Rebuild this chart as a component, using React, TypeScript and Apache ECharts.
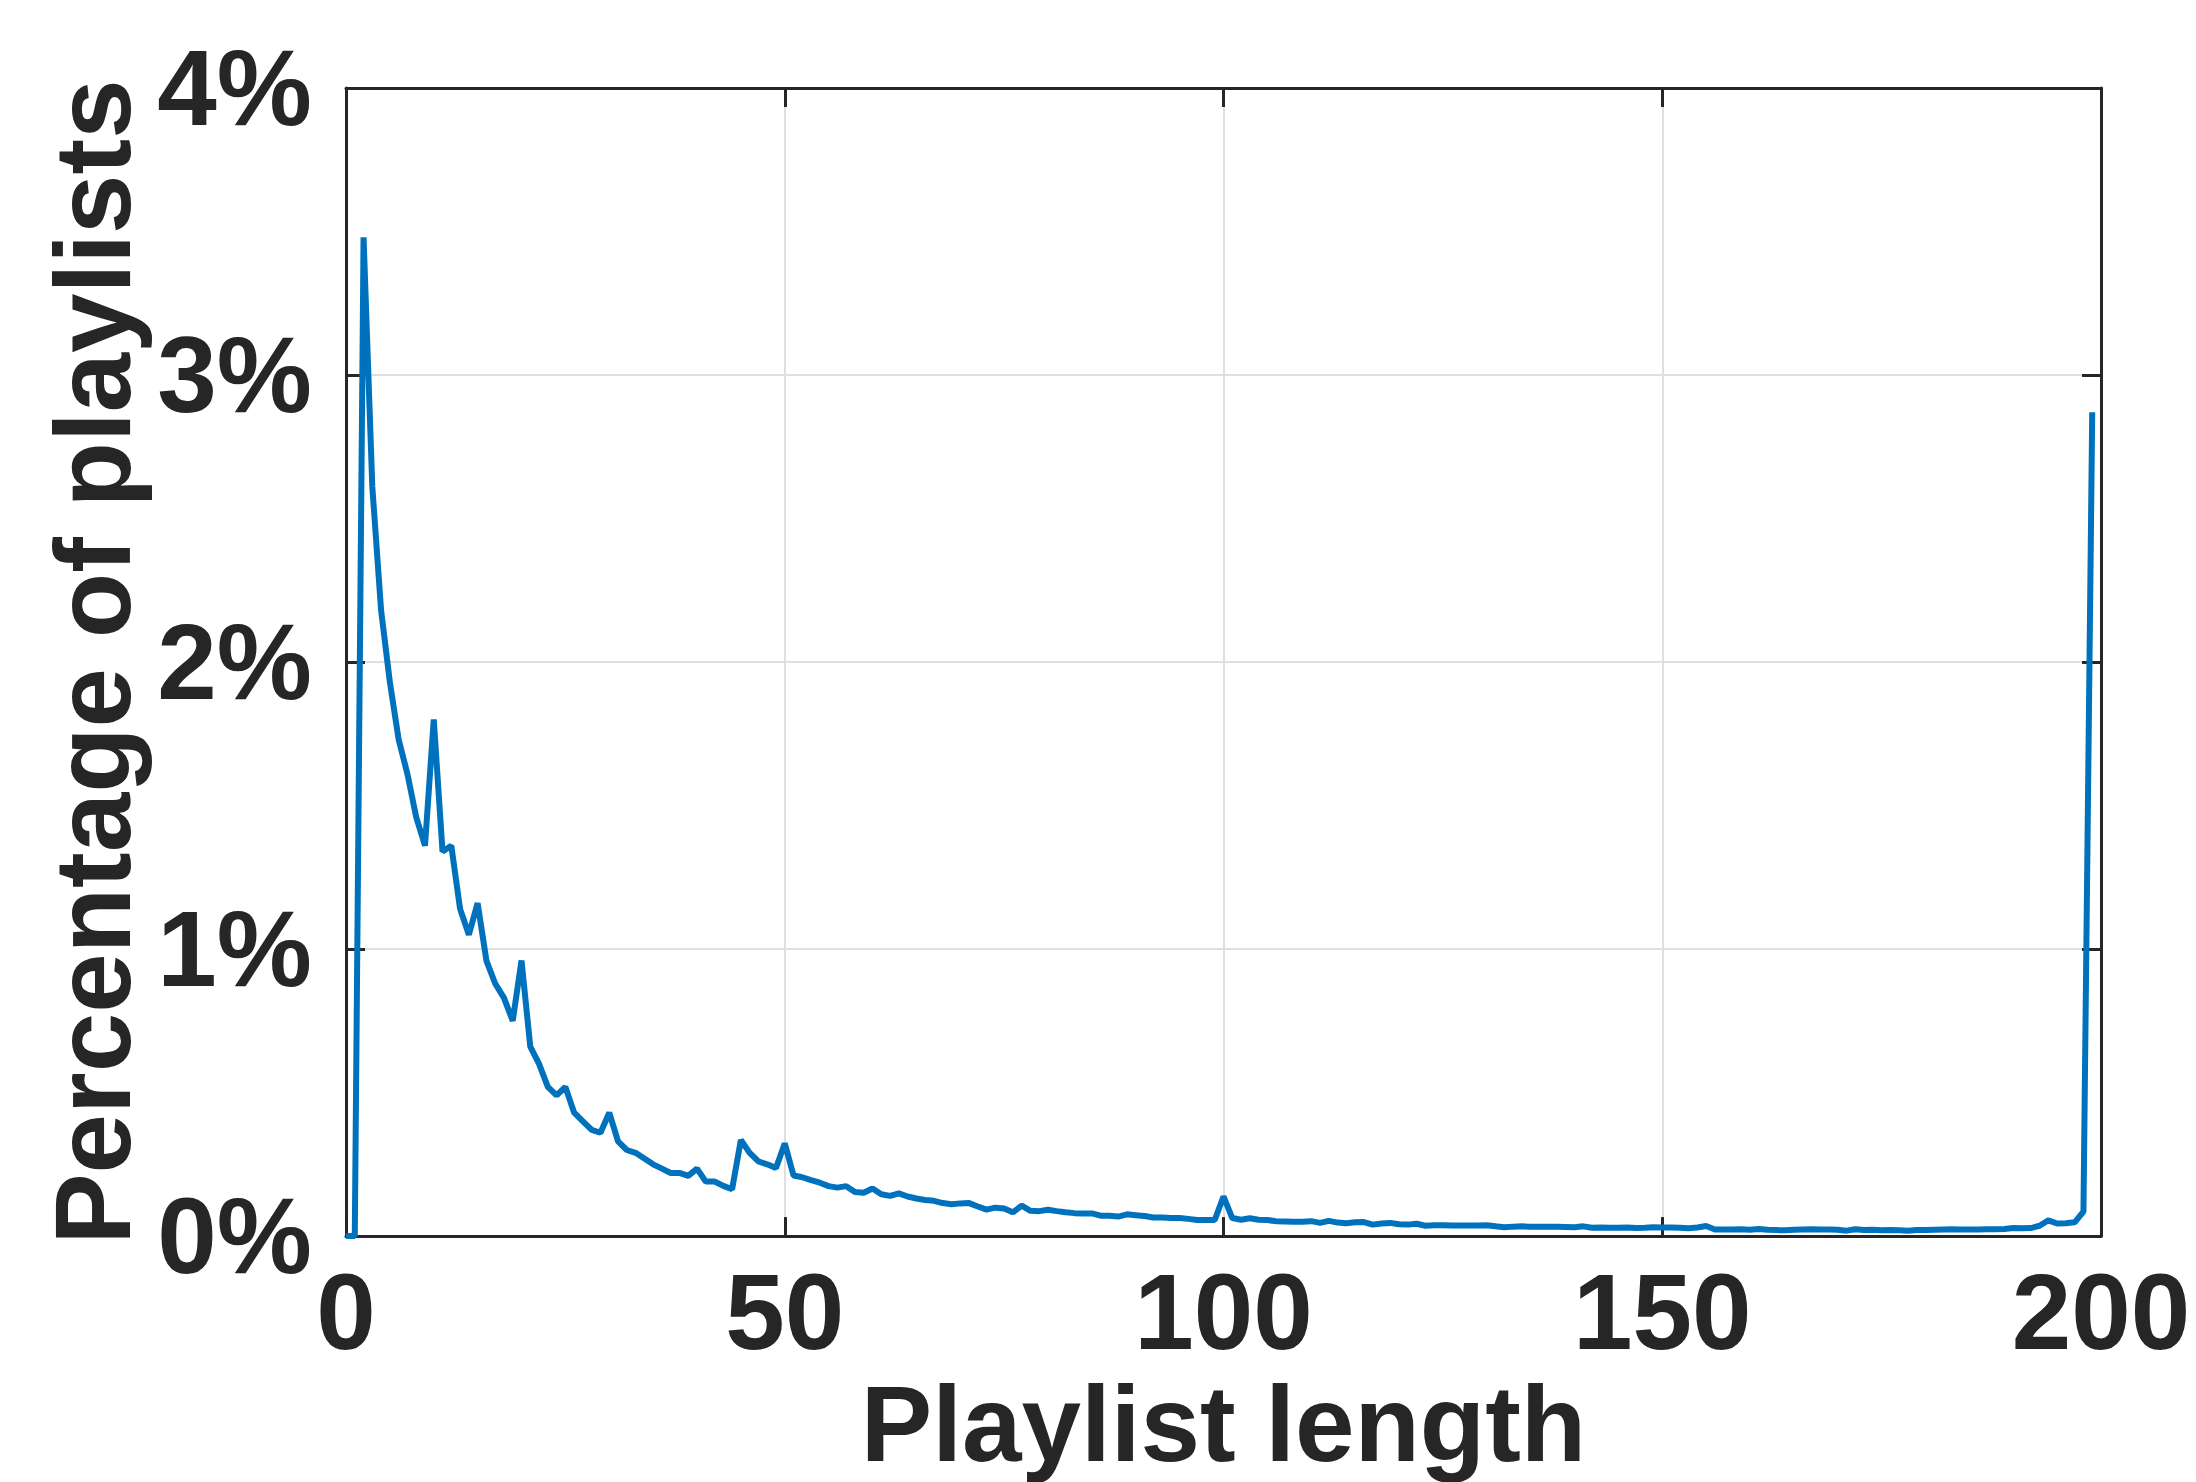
import React, { useEffect, useRef } from "react";
import * as echarts from "echarts";

// Percentage of playlists for playlist lengths 0..199
const percentByLength: number[] = [
  0, 0, 3.48, 2.61, 2.18, 1.93, 1.73, 1.61, 1.46, 1.36,
  1.80, 1.34, 1.36, 1.14, 1.05, 1.16, 0.96, 0.88, 0.83, 0.75,
  0.96, 0.66, 0.60, 0.52, 0.49, 0.52, 0.43, 0.40, 0.37, 0.36,
  0.43, 0.33, 0.30, 0.29, 0.27, 0.25, 0.235, 0.22, 0.22, 0.21,
  0.235, 0.19, 0.19, 0.175, 0.163, 0.335, 0.29, 0.26, 0.25, 0.237,
  0.323, 0.211, 0.205, 0.195, 0.186, 0.174, 0.169, 0.174, 0.154, 0.151,
  0.166, 0.146, 0.14, 0.149, 0.138, 0.131, 0.126, 0.123, 0.115, 0.111,
  0.114, 0.115, 0.103, 0.092, 0.099, 0.096, 0.083, 0.106, 0.088, 0.087,
  0.092, 0.087, 0.083, 0.080, 0.079, 0.079, 0.071, 0.071, 0.068, 0.076,
  0.073, 0.070, 0.065, 0.065, 0.063, 0.063, 0.060, 0.056, 0.056, 0.056,
  0.138, 0.063, 0.057, 0.062, 0.057, 0.056, 0.052, 0.051, 0.050, 0.050,
  0.052, 0.046, 0.053, 0.047, 0.045, 0.048, 0.049, 0.040, 0.044, 0.046,
  0.041, 0.040, 0.043, 0.036, 0.038, 0.038, 0.037, 0.037, 0.037, 0.037,
  0.038, 0.034, 0.031, 0.033, 0.034, 0.033, 0.033, 0.033, 0.033, 0.032,
  0.031, 0.034, 0.029, 0.030, 0.029, 0.029, 0.030, 0.028, 0.029, 0.031,
  0.030, 0.030, 0.029, 0.027, 0.030, 0.035, 0.023, 0.023, 0.023, 0.024,
  0.022, 0.025, 0.022, 0.021, 0.020, 0.022, 0.023, 0.024, 0.023, 0.023,
  0.022, 0.019, 0.024, 0.021, 0.022, 0.020, 0.021, 0.020, 0.019, 0.021,
  0.021, 0.022, 0.023, 0.024, 0.023, 0.023, 0.023, 0.024, 0.024, 0.025,
  0.028, 0.027, 0.028, 0.036, 0.055, 0.044, 0.045, 0.048, 0.085, 2.87,
];

const xTicks = { min: 0, max: 200, interval: 50 };
const yTicks = { min: 0, max: 4, interval: 1 };
const xTitle = "Playlist length";
const yTitle = "Percentage of playlists";

const FONT = "Liberation Sans";
const TEXT = "#262626";

export default function App() {
  const ref = useRef<HTMLDivElement>(null);
  useEffect(() => {
    document.body.style.margin = "0";
    if (!ref.current) return;
    const chart = echarts.init(ref.current, undefined, { renderer: "svg" });
    const data = percentByLength.map((v, i) => [i, v]);
    const axisLine = { show: true, onZero: false, lineStyle: { color: TEXT, width: 3 } };
    const tick = { show: true, inside: true, length: 19, lineStyle: { color: TEXT, width: 3 } };
    const grid = { show: true, lineStyle: { color: "#dfdfdf", width: 2 } };
    chart.setOption({
      animation: false,
      backgroundColor: "#ffffff",
      grid: { left: 346, right: 95, top: 88, bottom: 231, containLabel: false },
      xAxis: [
        {
          type: "value",
          ...xTicks,
          position: "bottom",
          axisLine,
          axisTick: tick,
          splitLine: grid,
          axisLabel: {
            margin: 22,
            fontFamily: FONT,
            fontWeight: "bold",
            fontSize: 107,
            color: TEXT,
          },
          name: xTitle,
          nameLocation: "middle",
          nameGap: 127,
          nameTextStyle: { fontFamily: FONT, fontWeight: "bold", fontSize: 107, color: TEXT },
        },
        {
          type: "value",
          ...xTicks,
          position: "top",
          axisLine,
          axisTick: tick,
          splitLine: { show: false },
          axisLabel: { show: false },
        },
      ],
      yAxis: [
        {
          type: "value",
          ...yTicks,
          position: "left",
          axisLine,
          axisTick: tick,
          splitLine: grid,
          axisLabel: {
            margin: 34,
            formatter: "{value}%",
            fontFamily: FONT,
            fontWeight: "bold",
            fontSize: 107,
            color: TEXT,
          },
          name: yTitle,
          nameLocation: "middle",
          nameGap: 200,
          nameTextStyle: { fontFamily: FONT, fontWeight: "bold", fontSize: 107, color: TEXT },
        },
        {
          type: "value",
          ...yTicks,
          position: "right",
          axisLine,
          axisTick: tick,
          splitLine: { show: false },
          axisLabel: { show: false },
        },
      ],
      series: [
        {
          type: "line",
          xAxisIndex: 0,
          yAxisIndex: 0,
          data,
          showSymbol: false,
          symbol: "none",
          lineStyle: { color: "#0072bd", width: 6 },
          z: 3,
        },
      ],
    });
    return () => chart.dispose();
  }, []);
  return <div ref={ref} style={{ width: 2196, height: 1482 }} />;
}
